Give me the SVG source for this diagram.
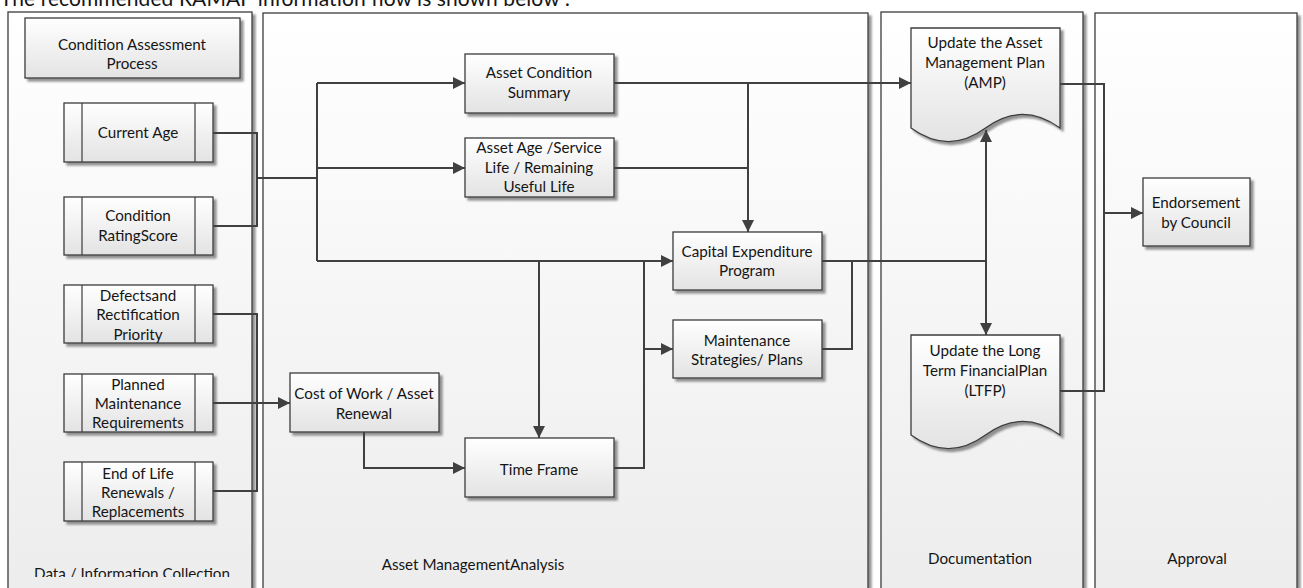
<svg xmlns="http://www.w3.org/2000/svg" width="1303" height="588" viewBox="0 0 1303 588">
  <defs>
    <linearGradient id="laneFill" x1="0" y1="0" x2="0" y2="1">
      <stop offset="0" stop-color="#ffffff"/>
      <stop offset="1" stop-color="#ececec"/>
    </linearGradient>
    <linearGradient id="nodeFill" x1="0" y1="0" x2="0" y2="1">
      <stop offset="0" stop-color="#ffffff"/>
      <stop offset="1" stop-color="#e3e3e3"/>
    </linearGradient>
    <filter id="shadow" x="-10%" y="-10%" width="130%" height="130%">
      <feDropShadow dx="3" dy="3" stdDeviation="1" flood-color="#6e6e6e" flood-opacity="0.75"/>
    </filter>
    <marker id="arrow" markerUnits="userSpaceOnUse" markerWidth="12" markerHeight="12" refX="12" refY="6" orient="auto">
      <path d="M0,0 L12,6 L0,12 z" fill="#404040"/>
    </marker>
    <clipPath id="pageClip">
      <rect x="0" y="0" width="1303" height="577"/>
    </clipPath>
  </defs>
  <style>
    .lane { fill: url(#laneFill); stroke: #3c3c3c; stroke-width: 1.3; filter: url(#shadow); }
    .box { fill: url(#nodeFill); stroke: #3c3c3c; stroke-width: 1.3; filter: url(#shadow); }
    .bar { fill: none; stroke: #3c3c3c; stroke-width: 1.2; }
    .wire { fill: none; stroke: #404040; stroke-width: 2; }
    .arrowed { marker-end: url(#arrow); }
    text { font-family: "Lato", "Liberation Sans", sans-serif; font-size: 15.2px; fill: #151515; text-anchor: middle; }
    .title { font-size: 21px; text-anchor: start; }
  </style>

  <rect width="1303" height="588" fill="#ffffff"/>

  <!-- heading line, cut by the page edge -->
  <text class="title" x="0" y="6" textLength="570">The recommended RAMAP information flow is shown below :</text>

  <!-- swimlanes -->
  <g id="lane-data">
    <rect class="lane" x="8" y="12" width="244" height="600"/>
    <text x="132" y="579" clip-path="url(#pageClip)">Data / Information Collection</text>
  </g>
  <g id="lane-analysis">
    <rect class="lane" x="263" y="13" width="605" height="600"/>
    <text x="473" y="570">Asset ManagementAnalysis</text>
  </g>
  <g id="lane-documentation">
    <rect class="lane" x="881" y="12" width="202" height="600"/>
    <text x="980" y="564">Documentation</text>
  </g>
  <g id="lane-approval">
    <rect class="lane" x="1095" y="13" width="202" height="600"/>
    <text x="1197" y="564">Approval</text>
  </g>

  <!-- data collection nodes -->
  <g id="condition-assessment">
    <rect class="box" x="25" y="18" width="215" height="60"/>
    <text x="132" y="50">Condition Assessment</text>
    <text x="132" y="69">Process</text>
  </g>
  <g id="current-age">
    <rect class="box" x="64" y="103" width="149" height="59"/>
    <path class="bar" d="M82,103 V162 M195,103 V162"/>
    <text x="138" y="138">Current Age</text>
  </g>
  <g id="condition-rating">
    <rect class="box" x="64" y="197" width="149" height="58"/>
    <path class="bar" d="M82,197 V255 M195,197 V255"/>
    <text x="138" y="221">Condition</text>
    <text x="138" y="241">RatingScore</text>
  </g>
  <g id="defects">
    <rect class="box" x="64" y="285" width="149" height="58"/>
    <path class="bar" d="M82,285 V343 M195,285 V343"/>
    <text x="138" y="301">Defectsand</text>
    <text x="138" y="320">Rectification</text>
    <text x="138" y="340">Priority</text>
  </g>
  <g id="planned-maintenance">
    <rect class="box" x="64" y="374" width="149" height="58"/>
    <path class="bar" d="M82,374 V432 M195,374 V432"/>
    <text x="138" y="390">Planned</text>
    <text x="138" y="409">Maintenance</text>
    <text x="138" y="428">Requirements</text>
  </g>
  <g id="end-of-life">
    <rect class="box" x="64" y="462" width="149" height="59"/>
    <path class="bar" d="M82,462 V521 M195,462 V521"/>
    <text x="138" y="479">End of Life</text>
    <text x="138" y="498">Renewals /</text>
    <text x="138" y="517">Replacements</text>
  </g>

  <!-- analysis nodes -->
  <g id="condition-summary">
    <rect class="box" x="465" y="54" width="149" height="59"/>
    <text x="539" y="78">Asset Condition</text>
    <text x="539" y="98">Summary</text>
  </g>
  <g id="asset-age">
    <rect class="box" x="465" y="138" width="149" height="59"/>
    <text x="539" y="153">Asset Age /Service</text>
    <text x="539" y="173">Life / Remaining</text>
    <text x="539" y="192">Useful Life</text>
  </g>
  <g id="capital-expenditure">
    <rect class="box" x="673" y="232" width="149" height="58"/>
    <text x="747" y="257">Capital Expenditure</text>
    <text x="747" y="276">Program</text>
  </g>
  <g id="maintenance-strategies">
    <rect class="box" x="673" y="320" width="149" height="58"/>
    <text x="747" y="346">Maintenance</text>
    <text x="747" y="365">Strategies/ Plans</text>
  </g>
  <g id="cost-of-work">
    <rect class="box" x="290" y="373" width="149" height="59"/>
    <text x="364" y="399">Cost of Work / Asset</text>
    <text x="364" y="419">Renewal</text>
  </g>
  <g id="time-frame">
    <rect class="box" x="465" y="438" width="149" height="59"/>
    <text x="539" y="475">Time Frame</text>
  </g>

  <!-- documentation nodes -->
  <g id="update-amp">
    <path class="box" d="M911,28 H1060 V128 C1035,110 1010,110 985.5,128 C961,146 936,146 911,128 Z"/>
    <text x="985" y="48">Update the Asset</text>
    <text x="985" y="68">Management Plan</text>
    <text x="985" y="88">(AMP)</text>
  </g>
  <g id="update-ltfp">
    <path class="box" d="M911,335 H1060 V435 C1035,417 1010,417 985.5,435 C961,453 936,453 911,435 Z"/>
    <text x="985" y="356">Update the Long</text>
    <text x="985" y="376">Term FinancialPlan</text>
    <text x="985" y="396">(LTFP)</text>
  </g>

  <!-- approval node -->
  <g id="endorsement">
    <rect class="box" x="1143" y="178" width="107" height="68"/>
    <text x="1196" y="208">Endorsement</text>
    <text x="1196" y="228">by Council</text>
  </g>

  <!-- connectors -->
  <g id="connectors">
    <path class="wire" d="M213,133 H257 V226 H213"/>
    <path class="wire" d="M257,178 H317" stroke-width="2.6"/>
    <path class="wire" d="M317,83 V261"/>
    <path class="wire arrowed" d="M317,83 H465"/>
    <path class="wire arrowed" d="M317,168 H465"/>
    <path class="wire arrowed" d="M317,261 H673"/>
    <path class="wire arrowed" d="M539,261 V438"/>
    <path class="wire" d="M614,468 H644 V261"/>
    <path class="wire arrowed" d="M644,349 H673"/>
    <path class="wire arrowed" d="M364,432 V468 H465"/>
    <path class="wire" d="M213,314 H257 V491 H213"/>
    <path class="wire arrowed" d="M213,403 H290"/>
    <path class="wire arrowed" d="M614,83 H911"/>
    <path class="wire arrowed" d="M748,83 V232"/>
    <path class="wire" d="M614,168 H748"/>
    <path class="wire" d="M822,261 H986"/>
    <path class="wire arrowed" d="M986,261 V130"/>
    <path class="wire arrowed" d="M986,261 V335"/>
    <path class="wire" d="M822,349 H852 V261"/>
    <path class="wire" d="M1060,84 H1104 V391 H1060"/>
    <path class="wire arrowed" d="M1104,213 H1143"/>
  </g>
</svg>
